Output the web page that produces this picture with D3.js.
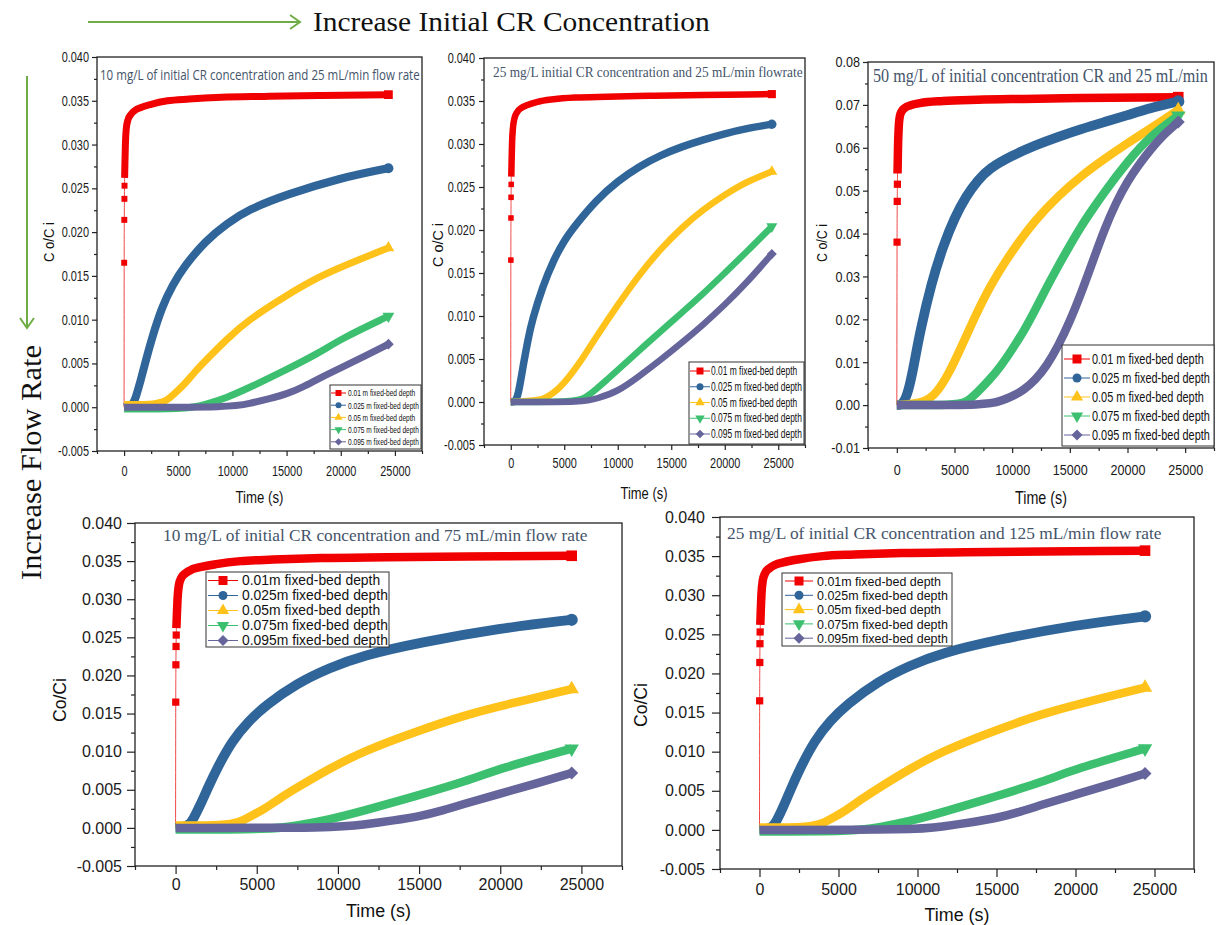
<!DOCTYPE html>
<html>
<head>
<meta charset="utf-8">
<script src="https://cdn.jsdelivr.net/npm/d3@7"></script>
<style>body{margin:0;background:#fff}</style>
</head>
<body>
<svg id="fig"></svg>
<script>
// ---- axis ticks ----
const timeDomain = [-2500, 27500];
const timeTicks = [0, 5000, 10000, 15000, 20000, 25000];
const timeMinor = [-2500, 2500, 7500, 12500, 17500, 22500, 27500];
const yTicksLow = [-0.005, 0, 0.005, 0.01, 0.015, 0.02, 0.025, 0.03, 0.035, 0.04];
const yMinorLow = [-0.0025, 0.0025, 0.0075, 0.0125, 0.0175, 0.0225, 0.0275, 0.0325, 0.0375];
const yTicksHigh = [-0.01, 0, 0.01, 0.02, 0.03, 0.04, 0.05, 0.06, 0.07, 0.08];
const yMinorHigh = [-0.005, 0.005, 0.015, 0.025, 0.035, 0.045, 0.055, 0.065, 0.075];

const labelsSpaced = ["0.01 m fixed-bed depth", "0.025 m fixed-bed depth", "0.05 m fixed-bed depth",
  "0.075 m fixed-bed depth", "0.095 m fixed-bed depth"];
const labelsTight = ["0.01m fixed-bed depth", "0.025m fixed-bed depth", "0.05m fixed-bed depth",
  "0.075m fixed-bed depth", "0.095m fixed-bed depth"];

// ---- 10 mg/L curves (same curves in the 25, 75 and 125 mL/min panels) ----  [time s, Co/Ci]
const a10Rise = [[10, 0.0165], [20, 0.0214], [30, 0.0238], [40, 0.0253]];
const a10Red = [[50, 0.0262], [80, 0.028], [120, 0.030], [200, 0.0318], [350, 0.0328], [600, 0.0334],
  [1000, 0.0339], [1500, 0.0342], [2500, 0.0346], [4000, 0.0350], [6000, 0.0352], [9000, 0.0354],
  [13000, 0.0355], [18000, 0.0356], [24400, 0.0357]];
const a10Blue = [[0, 0], [800, 0.0002], [1100, 0.0012], [1500, 0.0029], [2000, 0.0053], [2500, 0.0076],
  [3500, 0.0115], [4500, 0.0140], [5500, 0.0160], [7500, 0.0190], [9500, 0.0210], [11500, 0.0226],
  [15000, 0.0243], [20000, 0.0262], [24400, 0.0273]];
const a10Yellow = [[0, 0.0003], [3000, 0.0003], [4000, 0.0008], [4500, 0.0014], [5500, 0.0025],
  [6500, 0.0040], [7500, 0.0053], [9500, 0.0078], [11500, 0.0100], [15000, 0.0128], [18000, 0.0149],
  [20000, 0.0160], [24400, 0.0182]];
const a10Green = [[0, -0.0002], [6000, -0.0002], [7500, 0.0003], [9500, 0.0011], [11500, 0.0022],
  [15000, 0.0043], [18000, 0.0062], [20000, 0.0078], [24400, 0.0104]];
const a10Purple = [[0, 0], [10000, 0], [11500, 0.0004], [13500, 0.0010], [15000, 0.0015], [16500, 0.0023],
  [18000, 0.0033], [20000, 0.0045], [22000, 0.0057], [24400, 0.0072]];

// ---- 25 mg/L, 25 mL/min ----
const b25Rise = [[10, 0.0165], [20, 0.0214], [30, 0.0238], [40, 0.0253]];
const b25Red = [[50, 0.0262], [80, 0.028], [120, 0.030], [200, 0.0318], [350, 0.0330], [600, 0.0337],
  [1000, 0.0342], [1500, 0.0345], [2500, 0.0349], [4000, 0.0352], [6000, 0.0354], [9000, 0.0355],
  [13000, 0.0356], [18000, 0.0357], [24400, 0.0358]];
const b25Blue = [[0, 0], [500, 0], [800, 0.0015], [1200, 0.0045], [1600, 0.0072], [2000, 0.0095],
  [3000, 0.0135], [4000, 0.0165], [5000, 0.0188], [6000, 0.0205], [8000, 0.0235], [10000, 0.0257],
  [12000, 0.0274], [14000, 0.0287], [16000, 0.0297], [18000, 0.0305], [20000, 0.0312], [22000, 0.0318],
  [24400, 0.0323]];
const b25Yellow = [[0, 0], [2500, 0.0002], [3000, 0.0003], [4000, 0.0010], [5000, 0.0022], [6000, 0.0038],
  [7000, 0.0056], [8000, 0.0076], [10000, 0.0113], [12000, 0.0148], [14000, 0.0178], [16000, 0.0203],
  [18000, 0.0224], [20000, 0.0241], [22000, 0.0256], [24400, 0.0268]];
const b25Green = [[0, 0], [6000, 0], [7000, 0.0005], [8000, 0.0015], [9000, 0.0026], [10000, 0.0037],
  [12000, 0.0060], [14000, 0.0082], [16000, 0.0104], [18000, 0.0126], [20000, 0.0150], [22000, 0.0174],
  [24400, 0.0204]];
const b25Purple = [[0, 0], [7000, 0], [8000, 0.0004], [10000, 0.0012], [12000, 0.0030], [14000, 0.0049],
  [16000, 0.0069], [18000, 0.0090], [20000, 0.0113], [22000, 0.0138], [24400, 0.0172]];

// ---- 50 mg/L, 25 mL/min ----
const c50Rise = [[20, 0.038], [35, 0.0475], [50, 0.0515]];
const c50Red = [[60, 0.054], [100, 0.060], [150, 0.064], [250, 0.0672], [400, 0.0684], [700, 0.0693],
  [1200, 0.0699], [2000, 0.0704], [4000, 0.0709], [7000, 0.0712], [11000, 0.0714], [16000, 0.0716],
  [24400, 0.0718]];
const c50Blue = [[0, 0], [500, 0], [1000, 0.003], [1500, 0.0095], [2000, 0.017], [3000, 0.0285],
  [4000, 0.0370], [5000, 0.0437], [6000, 0.0487], [7000, 0.0524], [8000, 0.0552], [10000, 0.0582],
  [12000, 0.0606], [14000, 0.0626], [16000, 0.0644], [18000, 0.0660], [20000, 0.0676], [22000, 0.0693],
  [24400, 0.0708]];
const c50Yellow = [[0, 0], [2500, 0.0005], [3500, 0.003], [4500, 0.0073], [5500, 0.013], [6500, 0.019],
  [8000, 0.0275], [10000, 0.036], [12000, 0.0432], [14000, 0.0488], [16000, 0.0535], [18000, 0.0574],
  [20000, 0.0611], [22000, 0.0645], [24400, 0.0688]];
const c50Green = [[0, 0], [5000, 0], [6000, 0.0005], [7000, 0.003], [8000, 0.0058], [9000, 0.009],
  [10000, 0.013], [11000, 0.0172], [12000, 0.0222], [13000, 0.0275], [14000, 0.0325], [15000, 0.0372],
  [16000, 0.0418], [17000, 0.0458], [18000, 0.0497], [20000, 0.0568], [22000, 0.0628], [24400, 0.0675]];
const c50Purple = [[0, 0], [8000, 0], [9000, 0.001], [10000, 0.002], [11000, 0.0035], [12000, 0.0058],
  [13000, 0.0092], [14000, 0.0138], [15000, 0.0195], [16000, 0.0262], [17000, 0.0336], [18000, 0.0410],
  [19000, 0.0472], [20000, 0.0522], [21000, 0.0561], [22000, 0.0596], [23000, 0.0627], [24400, 0.066]];

const colors = ["#f00000", "#30659a", "#ffc21a", "#3cc070", "#65659b"];
const SANS = "'Liberation Sans', Arial, sans-serif";
const SERIF = "'Liberation Serif', 'Times New Roman', serif";
const TITLE = "#44546a";

const svg = d3.select("#fig").attr("width", 1216).attr("height", 925);
svg.append("rect").attr("width", 1216).attr("height", 925).attr("fill", "#fff");

// text squeezed (or stretched) horizontally to a given width
function squeezeText(parent, o) {
  const g = parent.append("g");
  const t = g.append("text")
    .attr("text-anchor", o.anchor || "start")
    .attr("font-family", o.font).attr("font-size", o.fs)
    .attr("fill", o.fill || "#111").text(o.text);
  const len = t.node().getComputedTextLength();
  const sx = o.sx || o.w / len;
  g.attr("transform", `translate(${o.x},${o.y}) rotate(${o.rotate || 0}) scale(${sx},1)`);
  return len;
}

// Origin-style markers: square, circle, up triangle, down triangle, diamond
function marker(g, i, cx, cy, side, color) {
  const type = [d3.symbolSquare, d3.symbolCircle, d3.symbolTriangle, d3.symbolTriangle, d3.symbolSquare][i];
  const rot = [0, 0, 0, 180, 45][i];
  const area = i === 1 ? Math.PI * (side / 2) ** 2 : (i === 2 || i === 3) ? side * side * 0.8 : side * side * (i === 4 ? 0.75 : 1);
  g.append("path")
    .attr("d", d3.symbol(type, area)())
    .attr("transform", `translate(${cx},${cy}) rotate(${rot})`)
    .attr("fill", color);
}

function drawPanel(p) {
  const g = svg.append("g");
  const x = d3.scaleLinear().domain(timeDomain).range([p.left, p.right]);
  const y = d3.scaleLinear().domain(p.yDomain).range([p.bottom, p.top]);

  // minor ticks
  g.append("g").attr("transform", `translate(0,${p.bottom})`)
    .call(d3.axisBottom(x).tickValues(timeMinor).tickSize(p.minor).tickSizeOuter(0).tickFormat(""));
  g.append("g").attr("transform", `translate(${p.left},0)`)
    .call(d3.axisLeft(y).tickValues(p.yMinor).tickSize(p.minor).tickSizeOuter(0).tickFormat(""));
  // major ticks (labels may be narrowed by p.sx)
  g.append("g").attr("transform", `translate(0,${p.bottom})`)
    .call(d3.axisBottom(x).tickValues(timeTicks).tickSize(p.major).tickPadding(p.xPad)
      .tickSizeOuter(0).tickFormat(d3.format("d")));
  g.append("g").attr("transform", `translate(${p.left},0)`)
    .call(d3.axisLeft(y).tickValues(p.yTicks).tickSize(p.major)
      .tickPadding((p.major + p.yPad) / p.sx - p.major)
      .tickSizeOuter(0).tickFormat((d) => d.toFixed(p.dec)));
  g.selectAll(".domain").remove();
  g.selectAll(".tick line").attr("stroke", "#222").attr("stroke-width", 1.2);
  g.selectAll(".tick text")
    .attr("font-family", SANS).attr("font-size", p.tickSize).attr("fill", "#1a1a1a")
    .attr("transform", `scale(${p.sx},1)`);

  // frame
  g.append("rect")
    .attr("x", p.left).attr("y", p.top)
    .attr("width", p.right - p.left).attr("height", p.bottom - p.top)
    .attr("fill", "none").attr("stroke", "#222").attr("stroke-width", 1.3);

  // curves
  const thin = d3.line().x((d) => x(d[0])).y((d) => y(d[1])).curve(d3.curveMonotoneX);
  const smooth = d3.line().x((d) => x(d[0])).y((d) => y(d[1])).curve(d3.curveBasis);
  const s = p.series;
  g.append("path")
    .datum([[0, 0], ...s.rise, ...s.red])
    .attr("d", thin).attr("fill", "none")
    .attr("stroke", "#f04848").attr("stroke-width", 1);
  [s.red, s.blue, s.yellow, s.green, s.purple].forEach((d, i) => {
    const w = p.w * (i === 1 ? 1.15 : 1);
    g.append("path").datum(d).attr("d", i === 0 ? thin : smooth)
      .attr("fill", "none").attr("stroke", colors[i])
      .attr("stroke-width", w).attr("stroke-linejoin", "round");
    const last = d[d.length - 1];
    marker(g, i, x(last[0]), y(last[1]), w * 1.25, colors[i]);
  });
  s.rise.forEach((d) => marker(g, 0, x(d[0]), y(d[1]), p.w * 0.85, colors[0]));

  // legend
  const L = p.legend;
  const lg = g.append("g");
  lg.append("rect")
    .attr("x", L.x0).attr("y", L.y0).attr("width", L.x1 - L.x0).attr("height", L.y1 - L.y0)
    .attr("fill", "#fff").attr("stroke", "#333").attr("stroke-width", 1);
  const probe = lg.append("text").attr("font-family", SANS).attr("font-size", L.fs);
  const maxLen = d3.max(p.labels, (t) => probe.text(t).node().getComputedTextLength());
  probe.remove();
  p.labels.forEach((t, i) => {
    const yy = L.row0 + i * L.step;
    lg.append("line").attr("x1", L.lx0).attr("x2", L.lx1).attr("y1", yy).attr("y2", yy)
      .attr("stroke", colors[i]).attr("stroke-width", 1);
    marker(lg, i, (L.lx0 + L.lx1) / 2, yy, L.ms, colors[i]);
    squeezeText(lg, { x: L.tx, y: yy + L.fs * 0.35, sx: L.tw / maxLen, font: SANS, fs: L.fs, text: t });
  });

  // panel title
  squeezeText(g, { x: p.title.x, y: p.title.y, w: p.title.w, font: p.title.font, fs: p.title.fs,
    fill: TITLE, text: p.title.text });

  // axis titles
  squeezeText(g, { x: (p.left + p.right) / 2 + p.xl.dx, y: p.xl.y, w: p.xl.w, anchor: "middle",
    font: SANS, fs: p.xl.fs, text: "Time (s)" });
  squeezeText(g, { x: p.yl.x, y: p.yl.y, w: p.yl.w, anchor: "middle", rotate: -90,
    font: SANS, fs: p.yl.fs, text: p.yl.text });
}

const serA = { rise: a10Rise, red: a10Red, blue: a10Blue, yellow: a10Yellow, green: a10Green, purple: a10Purple };
const serB = { rise: b25Rise, red: b25Red, blue: b25Blue, yellow: b25Yellow, green: b25Green, purple: b25Purple };
const serC = { rise: c50Rise, red: c50Red, blue: c50Blue, yellow: c50Yellow, green: c50Green, purple: c50Purple };

const small = { yDomain: [-0.005, 0.04], yTicks: yTicksLow, yMinor: yMinorLow, dec: 3 };

drawPanel({
  ...small, left: 97, right: 422, top: 57, bottom: 451, series: serA, labels: labelsSpaced,
  major: 5, minor: 3, xPad: 10, yPad: 3, tickSize: 14, sx: 0.78, w: 7,
  legend: { x0: 330, x1: 421, y0: 385, y1: 449, row0: 393, step: 12.2, lx0: 331, lx1: 346, tx: 348, tw: 71, ms: 6, fs: 9.5 },
  title: { text: "10 mg/L of initial CR concentration and 25 mL/min flow rate", x: 100, y: 80, w: 320, fs: 15, font: "'Open Sans', sans-serif" },
  xl: { y: 503, dx: 0, fs: 17, w: 48 }, yl: { x: 54, y: 242, fs: 15, w: 40, text: "C o/C i" }
});

drawPanel({
  ...small, left: 484, right: 805, top: 58, bottom: 445, series: serB, labels: labelsSpaced,
  major: 5, minor: 3, xPad: 8, yPad: 4, tickSize: 14, sx: 0.78, w: 6.5,
  legend: { x0: 689, x1: 804, y0: 362, y1: 444, row0: 371, step: 15.75, lx0: 690, lx1: 710, tx: 711, tw: 91, ms: 7, fs: 12 },
  title: { text: "25 mg/L  initial CR concentration and 25 mL/min flowrate", x: 493, y: 77, w: 310, fs: 14, font: SERIF },
  xl: { y: 499, dx: -0.5, fs: 17, w: 47 }, yl: { x: 443, y: 245, fs: 15, w: 44, text: "C o/C i" }
});

drawPanel({
  left: 868, right: 1214, top: 62, bottom: 448, yDomain: [-0.01, 0.08], yTicks: yTicksHigh, yMinor: yMinorHigh, dec: 2,
  series: serC, labels: labelsSpaced,
  major: 5, minor: 3, xPad: 11, yPad: 3, tickSize: 15, sx: 0.84, w: 8.5,
  legend: { x0: 1062, x1: 1214, y0: 345, y1: 446, row0: 359, step: 19, lx0: 1064, lx1: 1090, tx: 1092, tw: 118, ms: 9, fs: 15 },
  title: { text: "50 mg/L of initial concentration CR and 25 mL/min", x: 873, y: 82, w: 335, fs: 18, font: SERIF },
  xl: { y: 504, dx: 0, fs: 18, w: 52 }, yl: { x: 827, y: 243, fs: 15, w: 38, text: "C o/C i" }
});

drawPanel({
  ...small, left: 135, right: 622, top: 523, bottom: 866, series: serA, labels: labelsTight,
  major: 8, minor: 4, xPad: 5, yPad: 5, tickSize: 16, sx: 1, w: 8.5,
  legend: { x0: 206, x1: 389, y0: 572, y1: 647, row0: 580.5, step: 15, lx0: 208, lx1: 238, tx: 242, tw: 146, ms: 9, fs: 14 },
  title: { text: "10 mg/L of initial CR concentration and 75 mL/min flow rate", x: 163, y: 541, w: 425, fs: 17.5, font: SERIF },
  xl: { y: 917, dx: 0, fs: 18, w: 65 }, yl: { x: 66, y: 700, fs: 18, w: 44, text: "Co/Ci" }
});

drawPanel({
  ...small, left: 720, right: 1194, top: 517, bottom: 869, series: serA, labels: labelsTight,
  major: 8, minor: 4, xPad: 7, yPad: 7, tickSize: 16, sx: 1, w: 8.5,
  legend: { x0: 782, x1: 952, y0: 573, y1: 646, row0: 581, step: 14.3, lx0: 785, lx1: 813, tx: 817, tw: 131, ms: 9, fs: 13.5 },
  title: { text: "25 mg/L of initial CR concentration and 125 mL/min flow rate", x: 727, y: 539, w: 435, fs: 17.5, font: SERIF },
  xl: { y: 921, dx: 0, fs: 18, w: 65 }, yl: { x: 647, y: 705, fs: 18, w: 44, text: "Co/Ci" }
});

// ---- figure annotations: arrows and headings ----
const green = "#70ad47";
const ann = svg.append("g").attr("stroke", green).attr("stroke-width", 2).attr("fill", "none");
ann.append("line").attr("x1", 88).attr("y1", 22).attr("x2", 300).attr("y2", 22);
ann.append("path").attr("d", "M290,15 L300,22 L290,29");
ann.append("line").attr("x1", 27).attr("y1", 76).attr("x2", 27).attr("y2", 328);
ann.append("path").attr("d", "M20,318 L27,328 L34,318");

squeezeText(svg, { x: 313, y: 31, w: 397, font: SERIF, fs: 28, text: "Increase Initial CR Concentration" });
squeezeText(svg, { x: 41, y: 580, w: 235, rotate: -90, font: SERIF, fs: 29, text: "Increase Flow Rate" });
</script>
</body>
</html>
